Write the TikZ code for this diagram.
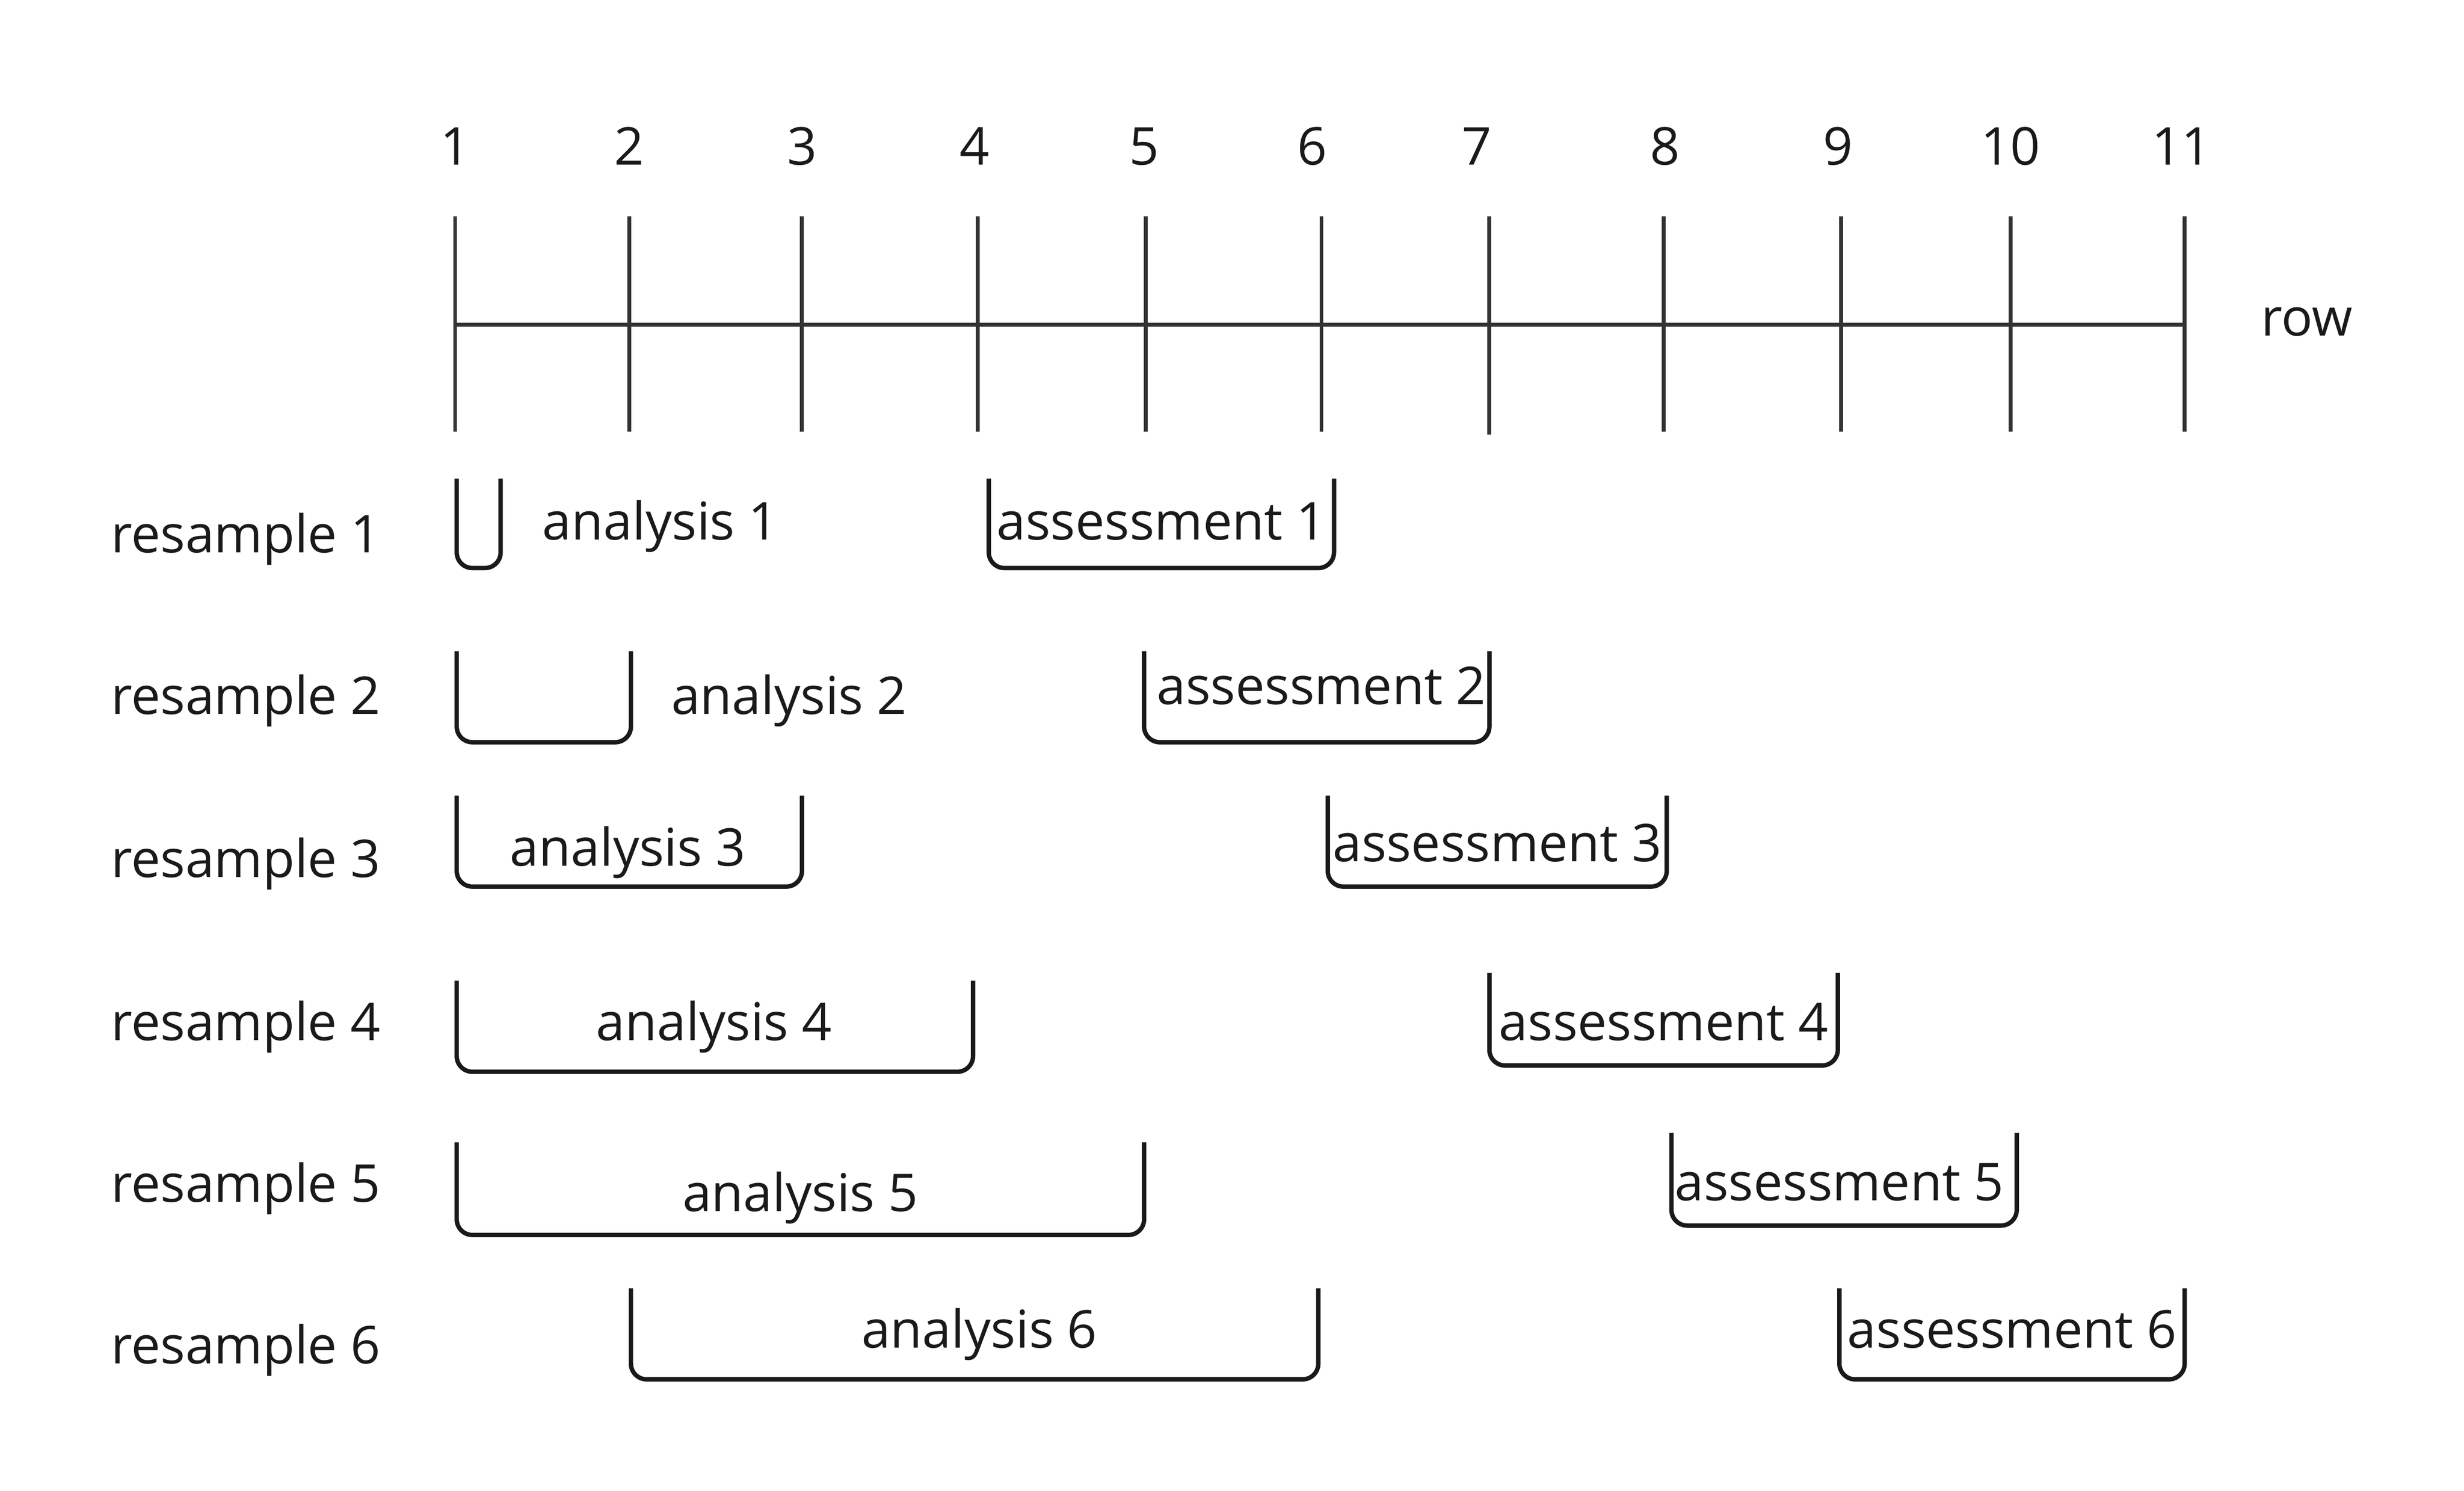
\documentclass[tikz,border=0pt]{standalone}
\usepackage{fontspec}
\setmainfont{Open Sans}
\definecolor{axisgray}{HTML}{333333}
\definecolor{inkblack}{HTML}{1A1A1A}
\tikzset{
  label/.style={text=inkblack, inner sep=0pt, font=\fontsize{9.45}{11}\selectfont},
  tick/.style={draw=axisgray, line width=0.7pt},
  bracket/.style={draw=inkblack, line width=0.8pt, rounded corners=0.1cm}
}
\begin{document}
\begin{tikzpicture}
    \useasboundingbox (0,0) rectangle (15.70,-9.50);
    % row axis with its ticks
    \draw[tick] (2.90,-2.07) -- (13.92,-2.07);
    \draw[tick] (2.90,-1.38) -- (2.90,-2.75);
    \draw[tick] (4.01,-1.38) -- (4.01,-2.75);
    \draw[tick] (5.11,-1.38) -- (5.11,-2.75);
    \draw[tick] (6.23,-1.38) -- (6.23,-2.75);
    \draw[tick] (7.30,-1.38) -- (7.30,-2.75);
    \draw[tick] (8.42,-1.38) -- (8.42,-2.75);
    \draw[tick] (9.49,-1.38) -- (9.49,-2.77);
    \draw[tick] (10.60,-1.38) -- (10.60,-2.75);
    \draw[tick] (11.73,-1.38) -- (11.73,-2.75);
    \draw[tick] (12.81,-1.38) -- (12.81,-2.75);
    \draw[tick] (13.92,-1.38) -- (13.92,-2.75);
    % row numbers
    \node[label, anchor=base] (num1) at (2.90,-1.05) {1};
    \node[label, anchor=base] (num2) at (4.01,-1.05) {2};
    \node[label, anchor=base] (num3) at (5.11,-1.05) {3};
    \node[label, anchor=base] (num4) at (6.21,-1.05) {4};
    \node[label, anchor=base] (num5) at (7.29,-1.05) {5};
    \node[label, anchor=base] (num6) at (8.36,-1.05) {6};
    \node[label, anchor=base] (num7) at (9.41,-1.05) {7};
    \node[label, anchor=base] (num8) at (10.61,-1.05) {8};
    \node[label, anchor=base] (num9) at (11.71,-1.05) {9};
    \node[label, anchor=base] (num10) at (12.81,-1.05) {10};
    \node[label, anchor=base] (num11) at (13.90,-1.05) {11};
    \node[label, anchor=base west] (row) at (14.40,-2.14) {row};
    % resample names
    \node[label, anchor=base west] (res1) at (0.70,-3.52) {resample 1};
    \node[label, anchor=base west] (res2) at (0.70,-4.55) {resample 2};
    \node[label, anchor=base west] (res3) at (0.70,-5.59) {resample 3};
    \node[label, anchor=base west] (res4) at (0.70,-6.63) {resample 4};
    \node[label, anchor=base west] (res5) at (0.70,-7.66) {resample 5};
    \node[label, anchor=base west] (res6) at (0.70,-8.69) {resample 6};
    % analysis brackets
    \draw[bracket] (2.91,-3.05) |- (3.19,-3.62) -- (3.19,-3.05);
    \draw[bracket] (2.91,-4.15) |- (4.02,-4.73) -- (4.02,-4.15);
    \draw[bracket] (2.91,-5.07) |- (5.11,-5.65) -- (5.11,-5.07);
    \draw[bracket] (2.91,-6.25) |- (6.20,-6.83) -- (6.20,-6.25);
    \draw[bracket] (2.91,-7.28) |- (7.29,-7.87) -- (7.29,-7.28);
    \draw[bracket] (4.02,-8.21) |- (8.40,-8.79) -- (8.40,-8.21);
    \node[label, anchor=base west] (ana1) at (3.45,-3.44) {analysis 1};
    \node[label, anchor=base west] (ana2) at (4.27,-4.55) {analysis 2};
    \node[label, anchor=base] (ana3) at (4.00,-5.52) {analysis 3};
    \node[label, anchor=base] (ana4) at (4.55,-6.63) {analysis 4};
    \node[label, anchor=base] (ana5) at (5.10,-7.72) {analysis 5};
    \node[label, anchor=base] (ana6) at (6.24,-8.59) {analysis 6};
    % assessment brackets
    \draw[bracket] (6.30,-3.05) |- (8.50,-3.62) -- (8.50,-3.05);
    \draw[bracket] (7.29,-4.15) |- (9.49,-4.73) -- (9.49,-4.15);
    \draw[bracket] (8.46,-5.07) |- (10.62,-5.65) -- (10.62,-5.07);
    \draw[bracket] (9.49,-6.20) |- (11.71,-6.79) -- (11.71,-6.20);
    \draw[bracket] (10.65,-7.22) |- (12.85,-7.81) -- (12.85,-7.22);
    \draw[bracket] (11.72,-8.21) |- (13.92,-8.79) -- (13.92,-8.21);
    \node[label, anchor=base] (ass1) at (7.40,-3.44) {assessment 1};
    \node[label, anchor=base] (ass2) at (8.42,-4.49) {assessment 2};
    \node[label, anchor=base] (ass3) at (9.54,-5.49) {assessment 3};
    \node[label, anchor=base] (ass4) at (10.60,-6.63) {assessment 4};
    \node[label, anchor=base] (ass5) at (11.72,-7.65) {assessment 5};
    \node[label, anchor=base] (ass6) at (12.82,-8.59) {assessment 6};
\end{tikzpicture}
\end{document}
